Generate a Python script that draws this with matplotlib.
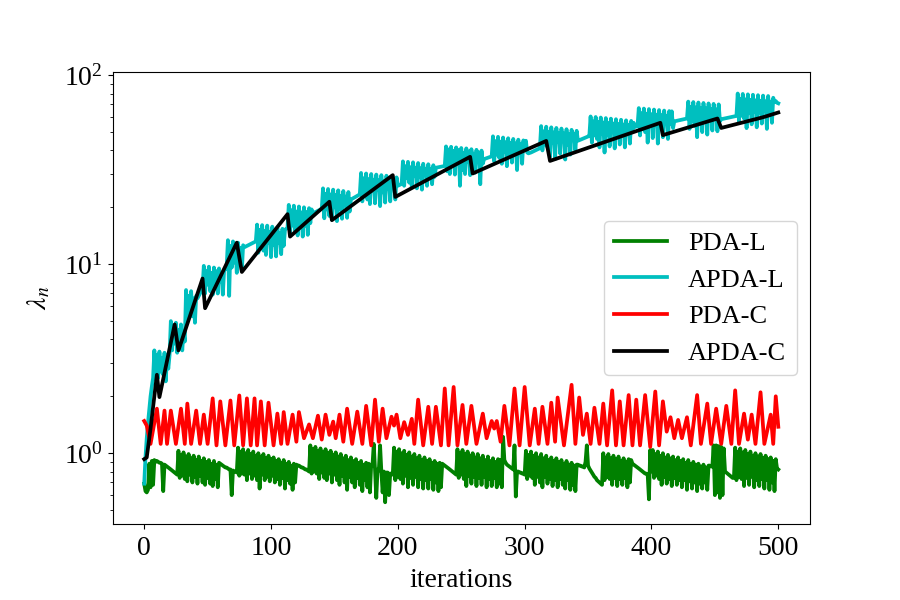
import numpy as np
import matplotlib
matplotlib.use('Agg')
import matplotlib.pyplot as plt

plt.rcParams['font.family'] = 'serif'
plt.rcParams['font.serif'] = ['Liberation Serif', 'DejaVu Serif']
plt.rcParams['mathtext.fontset'] = 'stix'

# PDA-L, one value per iteration (0..500)
pda_l = [0.69, 0.63, 0.62, 0.64, 0.88, 0.66, 0.91, 0.68, 0.92, 0.90, 0.91, 0.90, 0.89, 0.89, 0.88, 0.63, 0.87, 0.86, 0.85, 0.84, 0.83, 0.82, 0.81, 0.80, 0.79, 0.78, 0.77,
         1.03, 0.74, 0.98, 0.76, 1.01, 0.73, 0.96, 0.71, 0.99, 0.77, 0.94, 0.70, 0.97, 0.75, 0.92, 0.69, 0.96, 0.76, 0.91, 0.70, 0.94, 0.68, 0.90, 0.74, 0.92, 0.69, 0.88, 0.67, 0.91, 0.73, 0.87, 0.66, 0.89, 0.88,
         0.87, 0.86, 0.85, 0.84, 0.84, 0.83, 0.82, 0.82, 0.60, 0.81, 0.80, 0.80, 0.79,
         1.07, 0.76, 1.02, 0.78, 1.05, 0.77, 1.00, 0.72, 1.04, 0.78, 0.99, 0.73, 1.02, 0.76, 0.97, 0.72, 1.00, 0.65, 0.96, 0.77, 0.99, 0.72, 0.94, 0.75, 0.97, 0.71, 0.93, 0.76, 0.95, 0.70, 0.91, 0.73, 0.93, 0.68, 0.89, 0.74, 0.92, 0.65, 0.88, 0.72, 0.90, 0.69, 0.86, 0.64, 0.88, 0.70, 0.87, 0.86, 0.86,
         0.85, 0.84, 0.84, 0.83, 0.82, 0.82, 0.81, 0.80,
         1.10, 0.78, 1.05, 0.80, 1.08, 0.78, 1.03, 0.73, 1.06, 0.79, 1.01, 0.74, 1.05, 0.72, 1.00, 0.78, 1.03, 0.70, 0.98, 0.77, 1.01, 0.72, 0.96, 0.68, 0.99, 0.76, 0.94, 0.70, 0.97, 0.64, 0.92, 0.75, 0.95, 0.70, 0.91, 0.66, 0.93, 0.74, 0.89, 0.68, 0.91, 0.63, 0.87, 0.72, 0.89, 0.66, 0.88, 0.62, 0.87, 0.86,
         1.12, 0.82, 0.58, 0.82, 0.81, 1.10, 0.80, 0.62, 0.80, 0.55, 0.79, 0.79, 0.60, 0.78, 0.78, 0.77,
         1.07, 0.72, 1.02, 0.75, 1.05, 0.73, 1.00, 0.69, 1.03, 0.76, 0.98, 0.66, 1.01, 0.74, 0.96, 0.68, 0.99, 0.75, 0.94, 0.66, 0.97, 0.73, 0.92, 0.65, 0.95, 0.72, 0.91, 0.65, 0.93, 0.73, 0.89, 0.64, 0.91, 0.70, 0.88, 0.63, 0.89, 0.66, 0.88,
         0.87, 0.86, 0.85, 0.84, 0.83, 0.82, 0.81, 0.80, 0.79, 0.78, 0.77,
         1.05, 0.74, 1.00, 0.77, 1.04, 0.73, 0.99, 0.67, 1.02, 0.76, 0.97, 0.69, 1.00, 0.75, 0.95, 0.67, 0.99, 0.74, 0.94, 0.68, 0.97, 0.75, 0.92, 0.66, 0.96, 0.73, 0.91, 0.67, 0.94, 0.74, 0.90, 0.66, 0.93, 0.69, 0.92, 0.66, 1.22,
         0.92, 0.89, 0.87, 0.86, 0.85, 0.84, 0.83, 0.82, 1.10, 0.59, 0.80, 0.80, 0.79, 0.79, 0.78, 0.78, 0.77,
         1.03, 0.73, 0.98, 0.76, 1.02, 0.74, 0.97, 0.68, 1.00, 0.75, 0.95, 0.70, 0.99, 0.66, 0.94, 0.75, 0.97, 0.69, 0.92, 0.73, 0.95, 0.67, 0.91, 0.72, 0.94, 0.66, 0.90, 0.73, 0.92, 0.68, 0.88, 0.65, 0.91, 0.72, 0.87, 0.64, 0.89, 0.68, 0.86, 0.63, 0.87,
         0.87, 0.86, 0.86, 0.85, 0.85, 0.84, 0.90, 1.10, 0.86, 0.83, 0.81, 0.79, 0.77, 0.75, 0.74, 0.72, 0.71, 0.70, 0.69, 0.68,
         1.00, 0.72, 0.95, 0.75, 0.99, 0.73, 0.94, 0.68, 0.97, 0.74, 0.93, 0.67, 0.96, 0.73, 0.91, 0.68, 0.94, 0.74, 0.90, 0.66, 0.93, 0.70, 0.92,
         0.88, 0.87, 0.86, 0.85, 0.84, 0.83, 0.82, 0.81, 0.80, 0.79, 0.78, 0.78, 0.77, 0.57, 1.04, 0.80,
         1.04, 0.74, 0.99, 0.76, 1.02, 0.73, 0.97, 0.68, 1.00, 0.75, 0.95, 0.69, 0.98, 0.73, 0.94, 0.67, 0.96, 0.74, 0.92, 0.68, 0.95, 0.72, 0.91, 0.66, 0.93, 0.72, 0.89, 0.64, 0.92, 0.71, 0.88, 0.65, 0.90, 0.70, 0.87, 0.63, 0.88, 0.69, 0.85, 0.65, 0.87, 0.70, 0.84, 0.64, 0.86,
         0.86, 0.85, 0.85,
         1.10, 0.60, 1.10, 0.62, 1.09, 0.58, 1.08, 0.60, 1.06, 0.80,
         0.79, 0.78, 0.77, 0.76, 0.75, 0.74, 0.74,
         1.07, 0.72, 1.02, 0.75, 1.06, 0.73, 1.01, 0.67, 1.04, 0.74, 0.99, 0.68, 1.02, 0.75, 0.97, 0.66, 1.00, 0.72, 0.96, 0.67, 0.99, 0.73, 0.94, 0.65, 0.97, 0.72, 0.93, 0.64, 0.95, 0.70, 0.91, 0.63, 0.93, 0.83, 0.82]

# APDA-L, one value per iteration (0..500)
apda_l = [0.69, 0.95, 1.2, 1.45, 1.7, 2.0, 2.25, 2.5,
          3.5, 2.45, 3.3, 2.5, 3.45, 2.7, 3.2, 2.6, 3.4, 2.4, 3.3, 2.8, 3.3,
          5.0, 3.5, 4.6, 3.8, 4.9, 3.4, 4.5, 3.9, 4.8, 3.5, 4.4, 3.9,
          7.3, 5.2, 6.8, 5.6, 7.2, 5.3, 6.6, 4.9, 6.8,
          6.6, 6.8, 7.0, 7.2, 7.5,
          9.8, 7.0, 9.2, 7.8, 9.7, 7.2, 9.0, 6.9, 9.6, 7.9, 9.2, 7.0, 9.5, 8.1, 8.9, 6.9, 9.3,
          9.4, 9.6,
          13.4, 6.8, 12.5, 9.6, 13.2, 10.2, 12.3, 9.0, 13.0, 10.5, 12.2, 9.3, 12.6,
          12.3, 12.4, 12.5, 12.6, 12.7, 12.8, 12.9, 13.0, 13.1, 13.2,
          16.2, 11.5, 15.2, 12.5, 16.1, 11.8, 15.0, 11.2, 16.0, 13.0, 14.8, 10.9, 15.8, 12.6, 14.9, 11.0, 15.6, 13.0, 14.6, 11.3, 15.4, 12.5,
          15.2, 15.4, 15.6,
          20.6, 14.5, 19.3, 16.0, 20.4, 15.0, 19.0, 14.2, 20.2, 16.5, 18.8, 14.0, 20.0, 16.0, 18.9, 14.3, 19.8, 16.5, 19.5,
          18.6, 18.7, 18.9, 19.0, 19.2, 19.3, 19.5, 19.6,
          25.2, 17.5, 23.6, 19.5, 25.0, 18.0, 23.4, 17.2, 24.8, 20.0, 23.2, 16.9, 24.6, 19.5, 23.0, 17.4, 24.4, 20.5, 22.8, 17.6, 24.1, 19.0,
          22.0, 22.2, 22.4, 22.6, 22.8, 23.0, 23.2, 23.4,
          30.4, 21.5, 28.5, 24.0, 30.2, 22.0, 28.2, 20.8, 30.0, 24.5, 28.0, 21.0, 29.8, 24.8, 27.8, 20.3, 29.6, 24.0, 27.6, 21.2, 29.4, 25.0, 27.5, 21.5, 29.2, 25.5, 27.2, 22.0, 28.8,
          26.0, 26.2, 26.4, 26.6,
          35.0, 26.0, 33.0, 28.5, 34.8, 27.0, 32.6, 25.5, 34.6, 29.5, 32.4, 25.2, 34.3, 29.0, 32.2, 24.8, 34.0, 29.8, 32.0, 26.0, 33.8, 30.0, 31.8, 26.5, 33.4, 29.0,
          32.4, 32.5, 32.6, 32.7, 32.8, 32.9, 33.0, 33.1,
          42.0, 31.0, 40.5, 30.0, 41.8, 33.5, 39.8, 29.8, 41.5, 34.0, 40.2, 26.0, 41.2, 31.5, 38.9, 30.0, 41.0, 35.0, 39.5, 29.6, 40.6, 33.0, 38.5, 30.5, 40.3, 35.5, 39.0, 26.5, 39.9, 34.0,
          36.0, 36.2, 36.4, 36.6, 36.8, 37.0, 37.2,
          47.5, 35.0, 44.8, 38.0, 47.2, 36.5, 44.5, 34.0, 46.8, 39.5, 44.2, 33.0, 46.4, 38.5, 43.9, 34.5, 46.0, 40.0, 43.6, 31.5, 45.6, 39.0, 43.2, 34.0, 45.2, 40.5, 45.0, 39.0,
          38.6, 38.8, 39.0, 39.3, 39.6, 39.9, 40.2, 40.5, 40.8, 41.1,
          53.8, 40.0, 50.5, 43.0, 53.4, 41.5, 50.2, 37.0, 53.0, 44.0, 49.8, 36.0, 52.6, 44.5, 49.6, 38.5, 52.2, 45.0, 49.2, 35.8, 51.8, 43.0, 49.0, 38.0, 51.4, 45.5, 48.8, 40.0, 50.8,
          45.0, 45.3, 45.6, 45.9, 46.2, 46.5, 46.8, 47.1, 47.4, 47.7,
          60.5, 44.0, 57.0, 48.0, 60.1, 46.0, 56.6, 41.5, 59.7, 49.0, 56.2, 39.0, 59.3, 48.5, 55.9, 42.0, 58.9, 50.0, 55.5, 41.0, 58.5, 49.0, 55.2, 43.0, 58.1, 50.5, 54.8, 41.5, 57.7, 49.5, 54.5, 43.5, 57.3, 51.0, 56.0,
          53.2, 53.5, 53.8,
          67.0, 48.0, 63.0, 52.0, 66.6, 50.0, 62.6, 44.0, 66.2, 54.0, 62.2, 46.5, 65.8, 55.0, 61.8, 43.5, 65.4, 54.0, 61.5, 47.0, 65.0, 56.0, 61.0, 46.0, 64.6, 55.0, 64.4, 52.5,
          57.0, 57.2, 57.4, 57.6, 57.8, 58.0, 58.2, 58.4, 58.6, 58.8, 59.0,
          72.5, 52.0, 68.0, 57.0, 72.1, 54.0, 67.6, 47.0, 71.7, 58.0, 67.2, 50.0, 71.3, 59.0, 66.8, 48.5, 70.9, 58.5, 66.4, 51.0, 70.5, 60.0, 66.0, 50.5, 70.1, 57.0,
          58.5, 58.7, 58.9, 59.1, 59.3, 59.5, 59.7, 59.9, 60.1, 60.3, 60.5, 60.7, 60.9,
          80.0, 57.0, 75.0, 61.0, 79.6, 59.0, 74.5, 52.5, 79.2, 63.0, 74.0, 55.0, 78.8, 64.0, 73.6, 53.0, 78.4, 63.5, 73.2, 55.5, 78.0, 65.0, 72.8, 52.0, 77.6, 63.0, 72.5, 56.0, 76.0, 72.0, 73.0, 71.5, 71.0]

# PDA-C, peaks and troughs
pda_c_it = [0, 2, 5, 10, 13, 16, 18, 21, 25, 29, 32, 34, 37, 41, 44, 47, 50, 54, 57, 60, 64, 68, 71, 75, 78, 81, 84, 87, 89, 92,
            95, 98, 102, 105, 108, 110, 113, 117, 120, 122, 126, 130, 133, 137, 140, 143, 146, 149, 151, 154, 157, 160, 164, 168,
            172, 175, 179, 182, 185, 188, 191, 195, 197, 199, 202, 205, 208, 211, 213, 216, 220, 224, 227, 230, 234, 237, 240, 244,
            247, 251, 254, 258, 262, 267, 270, 274, 276, 278, 281, 284, 288, 292, 296, 300, 304, 308, 311, 314, 318, 321, 324, 326,
            331, 337, 340, 343, 346, 349, 352, 355, 359, 362, 365, 369, 372, 375, 378, 382, 385, 388, 391, 395, 399, 403, 406, 409,
            412, 415, 418, 421, 424, 428, 431, 436, 439, 444, 447, 451, 455, 459, 463, 466, 469, 473, 476, 479, 482, 486, 489, 494,
            496, 498, 500]
pda_c = [1.48, 1.40, 1.12, 1.72, 1.12, 1.68, 1.12, 1.68, 1.12, 1.72, 1.12, 1.83, 1.12, 1.68, 1.12, 1.60, 1.12, 1.95, 1.10, 1.88,
         1.10, 1.90, 1.10, 2.02, 1.10, 1.95, 1.10, 1.95, 1.10, 1.88,
         1.10, 1.85, 1.10, 1.62, 1.12, 1.65, 1.12, 1.60, 1.15, 1.65, 1.20, 1.42, 1.20, 1.58, 1.18, 1.60, 1.25, 1.47, 1.20, 1.60,
         1.15, 1.72, 1.12, 1.66,
         1.12, 1.78, 1.10, 1.92, 1.15, 1.72, 1.20, 1.56, 1.40, 1.60, 1.20, 1.46, 1.25, 1.52, 1.12, 1.92, 1.10, 1.76, 1.12, 1.76,
         1.10, 2.20, 1.10, 2.24,
         1.10, 1.80, 1.12, 1.78, 1.12, 1.62, 1.20, 1.48, 1.35, 1.48, 1.15, 1.78, 1.10, 2.20, 1.10, 2.24, 1.10, 1.72, 1.12, 1.76,
         1.12, 1.85, 1.15, 1.97,
         1.10, 2.30, 1.12, 1.97, 1.25, 1.62, 1.12, 1.74, 1.12, 1.83, 1.10, 2.15, 1.10, 1.88, 1.10, 2.03, 1.10, 1.92, 1.10, 2.03,
         1.08, 2.12, 1.10, 1.88,
         1.30, 1.55, 1.20, 1.50, 1.20, 1.55, 1.10, 2.03, 1.12, 1.83, 1.12, 1.72, 1.12, 1.78, 1.12, 2.15, 1.12, 1.62, 1.18, 1.60,
         1.12, 2.10, 1.12, 1.60,
         1.12, 2.00, 1.38]

# APDA-C, corner points of the sawtooth
apda_c_it = [0, 2, 5, 10, 12, 24, 27, 46, 48, 73, 77, 113, 115, 146, 148, 196, 198, 257, 259, 317, 320, 407, 409, 452, 455, 487, 490, 500]
apda_c = [0.93, 0.95, 1.35, 2.6, 1.98, 4.8, 3.5, 8.4, 5.85, 13.0, 9.1, 18.4, 14.0, 21.4, 17.1, 29.6, 22.7, 37.0, 30.2, 44.9,
          35.2, 56.0, 48.2, 59.0, 52.6, 59.7, 60.5, 63.5]

fig = plt.figure(figsize=(9, 6), dpi=100)
ax = fig.add_subplot(111)
fig.subplots_adjust(left=0.125, right=0.9, top=0.88, bottom=0.126)

ax.semilogy(np.arange(len(pda_l)), pda_l, color='g', lw=2.7, label='PDA-L')
ax.semilogy(np.arange(len(apda_l)), apda_l, color='c', lw=2.7, label='APDA-L')
ax.semilogy(pda_c_it, pda_c, color='r', lw=2.7, label='PDA-C')
ax.semilogy(apda_c_it, apda_c, color='k', lw=2.7, label='APDA-C')

ax.set_xlim(-25, 525)
ax.set_ylim(0.42, 104)
ax.set_xlabel('iterations', fontsize=20, labelpad=5)
ax.set_ylabel(r'$\lambda_n$', fontsize=20, labelpad=8)
ax.tick_params(labelsize=20)
ax.tick_params(axis='x', pad=5)
ax.legend(loc='center right', fontsize=19)

fig.savefig('out.png', dpi=100)
